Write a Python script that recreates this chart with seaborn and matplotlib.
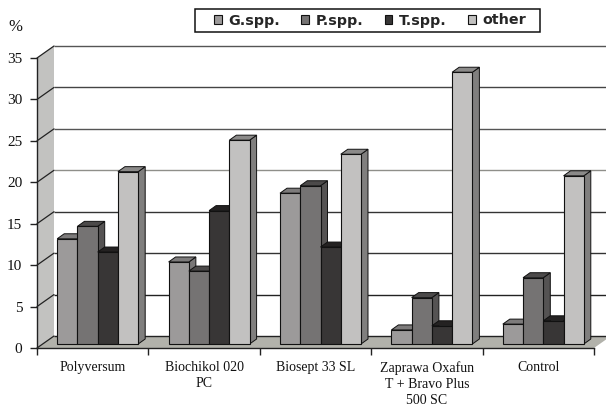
import matplotlib
matplotlib.use("Agg")
import matplotlib.pyplot as plt
import pandas as pd
import seaborn as sns
from matplotlib.patches import Polygon, Rectangle

# Share of isolates per treatment, percent
treatments = ["Polyversum", "Biochikol 020\nPC", "Biosept 33 SL",
              "Zaprawa Oxafun\nT + Bravo Plus\n500 SC", "Control"]
genera = ["G.spp.", "P.spp.", "T.spp.", "other"]
g_spp = [12.7, 9.9, 18.2, 1.7, 2.4]
p_spp = [14.2, 8.8, 19.1, 5.6, 8.0]
t_spp = [11.1, 16.1, 11.7, 2.2, 2.8]
other = [20.8, 24.6, 22.9, 32.8, 20.3]
y_ticks = [0, 5, 10, 15, 20, 25, 30, 35]

front_colors = ["#9c9a9a", "#757373", "#383636", "#c2c1c0"]
side_colors = ["#7a7878", "#555353", "#222020", "#807f7e"]
top_colors = ["#7d7b7b", "#4c4a4a", "#242222", "#8b8a89"]
grid_colors = ["#222222", "#222222", "#333333", "#333333", "#8f8f8a", "#555555", "#444444", "#555555"]

long = pd.DataFrame({
    "treatment": treatments * 4,
    "genus": [g for g in genera for _ in treatments],
    "share": g_spp + p_spp + t_spp + other,
})

sns.set_style("white")
plt.rcParams["font.family"] = ["Liberation Serif", "DejaVu Sans"]

fig = plt.figure(figsize=(6.06, 4.07), dpi=100)
ax = fig.add_axes([37 / 606, 1 - 348 / 407, 557 / 606, 290 / 407])

sns.barplot(data=long, x="treatment", y="share", hue="genus", order=treatments,
            hue_order=genera, palette=front_colors, saturation=1, width=0.727,
            edgecolor="#111111", linewidth=0.8, ax=ax)
ax.set_xlim(-0.5, 4.5)
ax.set_ylim(0, 35)
ax.patch.set_alpha(0)

# Pixel sizes converted to data units for the oblique projection
px_x = 5 / 557
px_y = 35 / 290
wall_dx, wall_dy = 17 * px_x, 12 * px_y
bar_shift_x, bar_shift_y = 5 * px_x, 4 * px_y
bar_dx, bar_dy = 7 * px_x, 5 * px_y
x0, x1 = -0.5, 4.5


def face(points, color, zorder, edge="none", lw=0.0):
    ax.add_patch(Polygon(points, closed=True, facecolor=color, edgecolor=edge,
                         linewidth=lw, zorder=zorder, clip_on=False))


# Left wall and floor
face([(x0, 0), (x0 + wall_dx, wall_dy), (x0 + wall_dx, 35 + wall_dy), (x0, 35)], "#c2c2c0", 0.5)
face([(x0, 0), (x1, 0), (x1 + wall_dx, wall_dy), (x0 + wall_dx, wall_dy)], "#b2b2ab", 0.5)

# Gridlines on the back wall with their slanted continuation on the left wall
for v, c in zip(y_ticks, grid_colors):
    ax.plot([x0 + wall_dx, x1 + wall_dx], [v + wall_dy] * 2, color=c, lw=1.0,
            clip_on=False, zorder=1, solid_capstyle="butt")
    ax.plot([x0, x0 + wall_dx], [v, v + wall_dy], color="#222222", lw=0.9,
            clip_on=False, zorder=1)

# Extrude each bar: side and top faces sit below the front of the next bar
for g_idx, container in enumerate(ax.containers):
    for bar in container:
        left = bar.get_x() + bar_shift_x
        right = left + bar.get_width()
        value = bar.get_height()
        base = bar_shift_y
        top = base + value
        order = 3 + 2 * (left + 1) * 40
        bar.set_x(left)
        bar.set_y(base)
        bar.set_zorder(order + 1)
        bar.set_clip_on(False)
        face([(right, base), (right + bar_dx, base + bar_dy), (right + bar_dx, top + bar_dy),
              (right, top)], side_colors[g_idx], order, "#111111", 0.7)
        face([(left, top), (right, top), (right + bar_dx, top + bar_dy),
              (left + bar_dx, top + bar_dy)], top_colors[g_idx], order, "#111111", 0.7)

# Axes, ticks and labels
for name in ("top", "right"):
    ax.spines[name].set_visible(False)
for name in ("left", "bottom"):
    ax.spines[name].set_color("#222222")
    ax.spines[name].set_linewidth(1.0)
    ax.spines[name].set_zorder(500)
ax.set_xlabel("")
ax.set_ylabel("")
ax.set_yticks(y_ticks)
ax.set_xticks(range(len(treatments)))
ax.set_xticklabels(treatments, fontsize=10, linespacing=1.28, color="#111111", va="top")
ax.set_xticks([x0 + i for i in range(len(treatments) + 1)], minor=True)
ax.tick_params(axis="x", which="major", length=0, pad=9.5)
ax.tick_params(axis="x", which="minor", length=5, width=1, color="#222222", bottom=True)
ax.tick_params(axis="y", length=5, width=1, color="#222222", labelsize=11, pad=5.5,
               labelcolor="#111111", left=True)

fig.text(15 / 606, 1 - 27 / 407, "%", fontsize=12, ha="center", va="center", color="#111111")

# Legend entries inside a separately drawn box
sns.move_legend(ax, "center", ncol=4, title=None, frameon=False,
                bbox_to_anchor=(214 / 606, 1 - 32 / 407, 312 / 606, 23 / 407),
                bbox_transform=fig.transFigure, mode="expand", borderaxespad=0,
                prop={"family": "DejaVu Sans", "weight": "bold", "size": 10.3},
                handlelength=0.55, handleheight=0.55,
                handletextpad=0.45, columnspacing=1.4, borderpad=0)
ax.get_legend().set_zorder(1000)
fig.add_artist(Rectangle((195 / 606, 1 - 32 / 407), 345 / 606, 23 / 407, transform=fig.transFigure,
                         facecolor="none", edgecolor="#111111", linewidth=1.1))

fig.savefig("out.png", dpi=100)
